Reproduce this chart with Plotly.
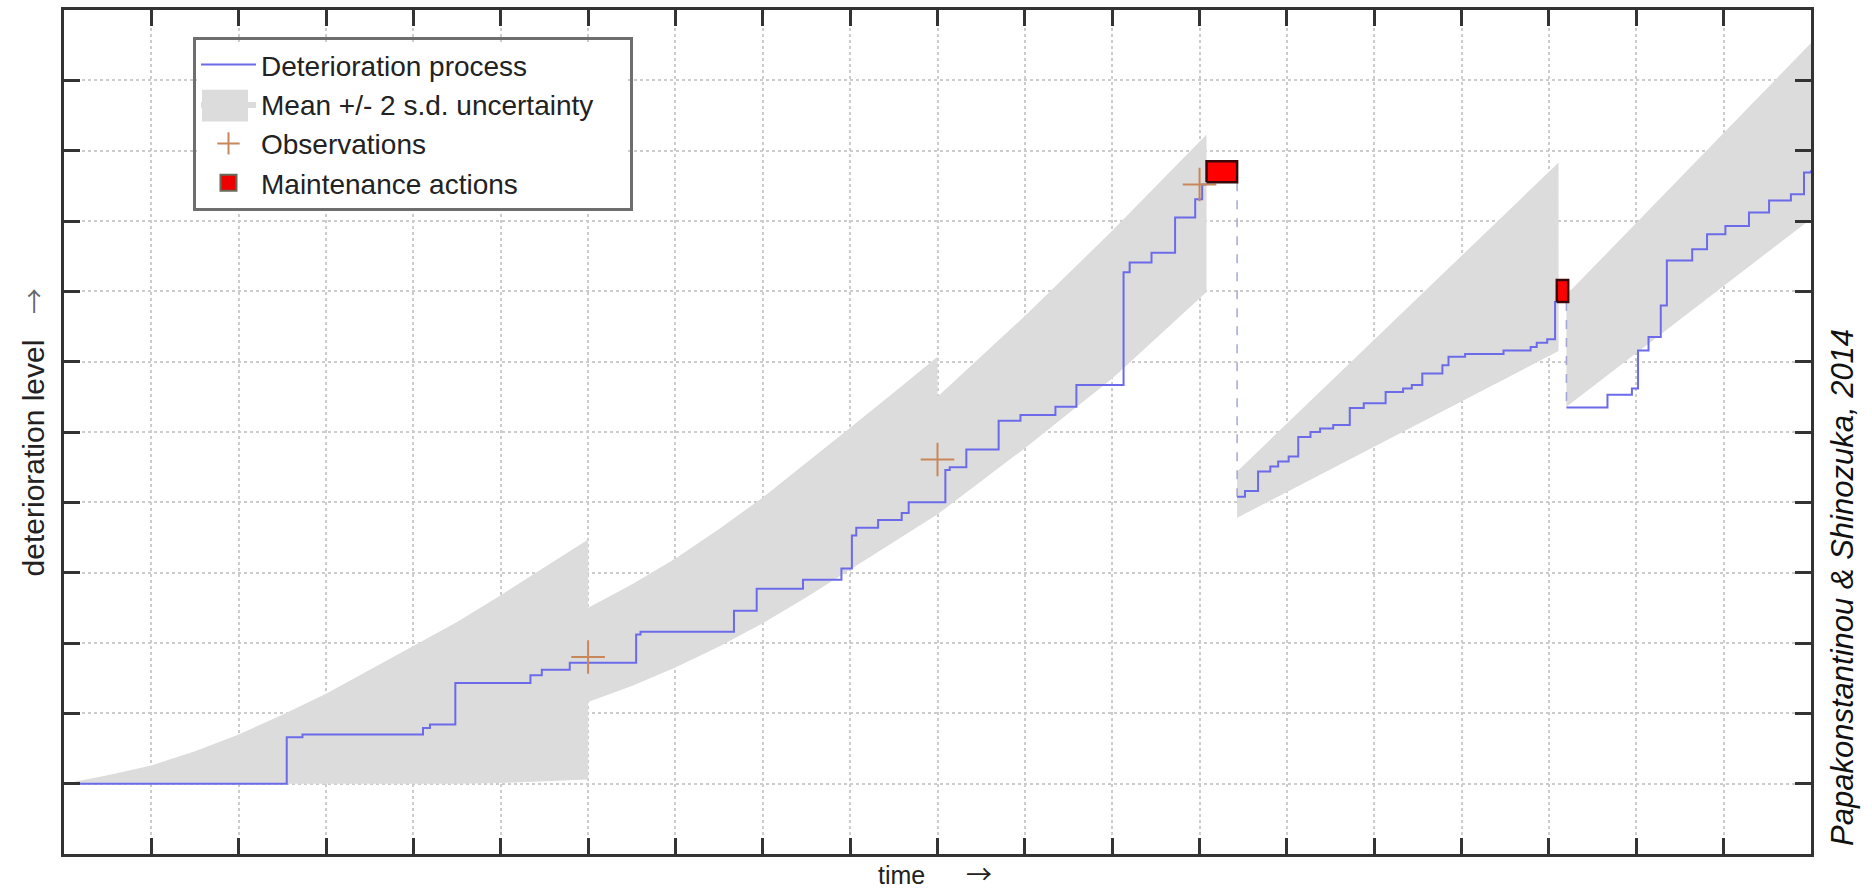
import plotly.graph_objects as go

# ---------------- data ----------------
# Deterioration process: piecewise-constant path, three segments between maintenance actions
seg_a_t = [0, 2.55, 2.73, 4.11, 4.19, 4.48, 5.34, 5.47, 5.79, 6.55, 6.60, 7.67, 7.93, 8.46,
           8.90, 9.02, 9.07, 9.32, 9.59, 9.67, 10.09, 10.14, 10.33, 10.70, 10.95, 11.35, 11.59,
           12.13, 12.20, 12.45, 12.72, 12.95, 13.03, 13.08]
seg_a_y = [1.00, 1.66, 1.70, 1.79, 1.84, 2.43, 2.54, 2.62, 2.72, 3.12, 3.16, 3.46, 3.77, 3.90,
           4.06, 4.53, 4.64, 4.75, 4.85, 5.00, 5.46, 5.50, 5.75, 6.16, 6.24, 6.36, 6.67,
           8.27, 8.41, 8.55, 9.05, 9.31, 9.52, 9.52]

seg_b_t = [13.43, 13.52, 13.67, 13.81, 13.90, 14.02, 14.13, 14.27, 14.38, 14.53, 14.72, 14.88,
           15.13, 15.33, 15.43, 15.55, 15.78, 15.85, 16.04, 16.48, 16.79, 16.86, 16.98, 17.07, 17.09]
seg_b_y = [5.08, 5.16, 5.44, 5.51, 5.58, 5.65, 5.93, 6.00, 6.05, 6.10, 6.34, 6.41,
           6.57, 6.62, 6.67, 6.83, 6.95, 7.07, 7.11, 7.16, 7.21, 7.27, 7.32, 7.85, 7.85]

seg_c_t = [17.20, 17.67, 17.95, 18.02, 18.14, 18.28, 18.35, 18.64, 18.81, 19.02, 19.29, 19.52,
           19.77, 19.92, 20.0]
seg_c_y = [6.35, 6.53, 6.62, 7.16, 7.35, 7.80, 8.44, 8.60, 8.81, 8.93, 9.12, 9.29,
           9.38, 9.69, 9.72]

# Mean +/- 2 s.d. uncertainty bands (one per update interval)
band1_t = [0, 0.5, 1, 1.5, 2, 2.5, 3, 3.5, 4, 4.5, 5, 5.5, 6]
band1_upper = [1.00, 1.12, 1.26, 1.46, 1.70, 1.98, 2.28, 2.62, 2.95, 3.30, 3.68, 4.07, 4.47]
band1_lower = [1.00, 1.00, 1.00, 1.00, 1.00, 1.00, 1.00, 1.00, 1.00, 1.00, 1.01, 1.03, 1.06]

band2_t = [6, 6.5, 7, 7.5, 8, 8.5, 9, 9.5, 10]
band2_upper = [3.50, 3.83, 4.20, 4.62, 5.07, 5.56, 6.06, 6.56, 7.07]
band2_lower = [2.16, 2.39, 2.65, 2.95, 3.28, 3.65, 4.05, 4.44, 4.83]

band3_t = [10, 11, 12, 13.08]
band3_upper = [6.50, 7.65, 8.86, 10.23]
band3_lower = [4.83, 5.77, 6.76, 7.99]

band4_t = [13.43, 17.11]
band4_upper = [5.44, 9.83]
band4_lower = [4.78, 7.15]

band5_t = [17.20, 20.0]
band5_upper = [7.95, 11.53]
band5_lower = [6.36, 9.03]

# Observations
obs_t = [6.0, 10.0, 13.0]
obs_y = [2.80, 5.61, 9.52]

# Maintenance actions
maint_t_start = [13.08, 17.09]
maint_t_end = [13.43, 17.22]
maint_y_low = [9.55, 7.85]
maint_y_high = [9.85, 8.16]
restart_t = [13.43, 17.20]
restart_y = [5.08, 6.35]

# ---------------- figure ----------------
BAND = "#dcdcdc"
fig = go.Figure()

# bands
bx, by = [], []
for t, up, lo in [(band1_t, band1_upper, band1_lower), (band2_t, band2_upper, band2_lower),
                  (band3_t, band3_upper, band3_lower), (band4_t, band4_upper, band4_lower),
                  (band5_t, band5_upper, band5_lower)]:
    if bx:
        bx.append(None); by.append(None)
    bx += list(t) + list(t[::-1])
    by += list(up) + list(lo[::-1])
fig.add_trace(go.Scatter(x=bx, y=by, fill="toself", fillcolor=BAND, mode="lines",
                         line=dict(width=0, color=BAND), hoverinfo="skip",
                         name="Mean +/- 2 s.d. uncertainty\u00a0\u00a0\u00a0\u00a0", legendrank=2))

# dashed restart lines
dx, dy = [], []
for t, ylo, ys in zip(restart_t, maint_y_low, restart_y):
    dx += [t, t, None]
    dy += [ylo, ys, None]
fig.add_trace(go.Scatter(x=dx, y=dy, mode="lines", showlegend=False,
                         line=dict(color="rgba(150,150,205,0.8)", width=1.6, dash="dash")))

# deterioration path
lx = seg_a_t + [None] + seg_b_t + [None] + seg_c_t
ly = seg_a_y + [None] + seg_b_y + [None] + seg_c_y
fig.add_trace(go.Scatter(x=lx, y=ly, mode="lines", line=dict(color="#6b6bea", width=2, shape="hv"),
                         name="Deterioration process", legendrank=1))

# observations
fig.add_trace(go.Scatter(x=obs_t, y=obs_y, mode="markers", name="Observations",
                         marker=dict(symbol="cross-thin", size=24,
                                     line=dict(width=2, color="rgb(200,135,90)")),
                         legendrank=3))

# maintenance boxes
mx, my = [], []
for t0, t1, y0, y1 in zip(maint_t_start, maint_t_end, maint_y_low, maint_y_high):
    mx += [t0, t1, t1, t0, t0, None]
    my += [y0, y0, y1, y1, y0, None]
fig.add_trace(go.Scatter(x=mx, y=my, fill="toself", fillcolor="#ff0000", mode="lines",
                         line=dict(color="#3a0808", width=2.5), showlegend=False))
fig.add_trace(go.Scatter(x=[None], y=[None], mode="markers", name="Maintenance actions",
                         marker=dict(symbol="square", size=17, color="#ee0000",
                                     line=dict(width=2, color="#6a6a5a")),
                         legendrank=4))

axis_common = dict(showline=True, linecolor="#333333", linewidth=3, mirror="ticks",
                   ticks="inside", ticklen=16, tickwidth=2.5, tickcolor="#333333",
                   showticklabels=False, zeroline=False, showgrid=True,
                   gridcolor="#cccccc", griddash="dot", gridwidth=1.5, dtick=1, tick0=0)
fig.update_xaxes(range=[0, 20], **axis_common)
fig.update_yaxes(range=[0, 12], **axis_common)

# pixel helpers for paper-positioned decorations
L, R, T, B = 64, 1811, 7, 854
def px(x):
    return (x - L) / (R - L)
def py(y):
    return (B - y) / (B - T)

FONT = "Liberation Sans, Arial, sans-serif"
ARROWFONT = "Noto Sans CJK SC, DejaVu Sans, sans-serif"
fig.update_layout(
    width=1872, height=892,
    margin=dict(l=L, r=1872 - R, t=T, b=892 - B),
    paper_bgcolor="white", plot_bgcolor="white",
    font=dict(family=FONT, size=28, color="#222222"),
    legend=dict(x=px(193), y=py(34), xanchor="left", yanchor="top",
                bgcolor="rgba(0,0,0,0)", bordercolor="#6e6e6e", borderwidth=3,
                font=dict(family=FONT, size=28, color="#222222"),
                traceorder="normal", itemwidth=55),
    shapes=[
        # legend background and the band's legend swatch
        dict(type="rect", xref="paper", yref="paper", layer="above",
             x0=px(197), x1=px(628), y0=py(205), y1=py(39),
             fillcolor="white", line=dict(width=0)),
        dict(type="rect", xref="paper", yref="paper", layer="above",
             x0=px(202), x1=px(248), y0=py(119), y1=py(87),
             fillcolor=BAND, line=dict(width=0)),
    ],
    annotations=[
        dict(text="time", x=px(901), y=py(875), xref="paper", yref="paper",
             xanchor="center", yanchor="middle", showarrow=False,
             font=dict(family=FONT, size=25, color="#222222")),
        dict(text="→", x=px(979), y=py(873), xref="paper", yref="paper",
             xanchor="center", yanchor="middle", showarrow=False,
             font=dict(family=ARROWFONT, size=26, color="#222222")),
        dict(text="deterioration level", x=px(33), y=py(457), xref="paper", yref="paper",
             xanchor="center", yanchor="middle", textangle=-90, showarrow=False,
             font=dict(family=FONT, size=30, color="#222222")),
        dict(text="→", x=px(33), y=py(299), xref="paper", yref="paper",
             xanchor="center", yanchor="middle", textangle=-90, showarrow=False,
             font=dict(family=ARROWFONT, size=26, color="#666666")),
        dict(text="<i>Papakonstantinou &amp; Shinozuka, 2014</i>", x=px(1843), y=py(586),
             xref="paper", yref="paper", xanchor="center", yanchor="middle",
             textangle=-90, showarrow=False,
             font=dict(family=FONT, size=31, color="#111111")),
    ],
)

fig.write_html("out.html")
